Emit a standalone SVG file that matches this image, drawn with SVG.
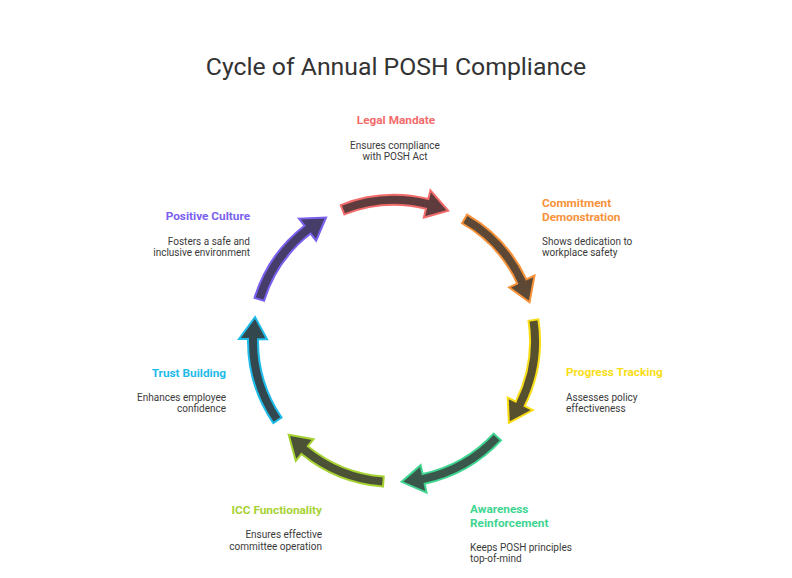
<svg xmlns="http://www.w3.org/2000/svg" width="792" height="578" viewBox="0 0 792 578">
<style>
.title{font-family:Roboto,"Liberation Sans",sans-serif;font-size:24.8px;fill:#333;}
.lbl{font-family:Roboto,"Liberation Sans",sans-serif;font-size:11.8px;font-weight:700;}
.desc{font-family:Roboto,"Liberation Sans",sans-serif;font-size:10px;fill:#3a3a3a;}
.arrow{stroke-width:2;stroke-linejoin:miter;}
</style>
<defs>
<path id="arc" d="M146,0 A146,146 0 0 1 119.60,83.74 L126.97,88.90 L101.43,97.95 L104.03,72.84 L111.40,78.01 A136,136 0 0 0 136,0 Z"/>
</defs>
<rect width="792" height="578" fill="#fff"/>
<text class="title" x="396" y="75" text-anchor="middle">Cycle of Annual POSH Compliance</text>
<g id="connectors">
<use href="#arc" class="arrow" fill="#5e3b3d" stroke="#f26b6b" transform="translate(394 341) rotate(-111.4)"/>
<use href="#arc" class="arrow" fill="#5d4835" stroke="#f7923a" transform="translate(394 341) rotate(-59.97)"/>
<use href="#arc" class="arrow" fill="#57502e" stroke="#f9de17" transform="translate(394 341) rotate(-8.54)"/>
<use href="#arc" class="arrow" fill="#39574a" stroke="#3ed591" transform="translate(394 341) rotate(42.89)"/>
<use href="#arc" class="arrow" fill="#4c5236" stroke="#a6d232" transform="translate(394 341) rotate(94.32)"/>
<use href="#arc" class="arrow" fill="#33474f" stroke="#1ebbe9" transform="translate(394 341) rotate(145.75)"/>
<use href="#arc" class="arrow" fill="#463d6b" stroke="#7b61f0" transform="translate(394 341) rotate(197.18)"/>
</g>
<g id="legal-mandate">
<text class="lbl" x="396" y="124" text-anchor="middle" fill="#f26b6b">Legal Mandate</text>
<text class="desc" x="395" y="148.5" text-anchor="middle">Ensures compliance</text>
<text class="desc" x="395" y="160" text-anchor="middle">with POSH Act</text>
</g>
<g id="commitment-demonstration">
<text class="lbl" x="542" y="206.5" fill="#f7923a">Commitment</text>
<text class="lbl" x="542" y="220.5" fill="#f7923a">Demonstration</text>
<text class="desc" x="542" y="244.5">Shows dedication to</text>
<text class="desc" x="542" y="256">workplace safety</text>
</g>
<g id="progress-tracking">
<text class="lbl" x="566" y="376" fill="#f9de17">Progress Tracking</text>
<text class="desc" x="566" y="400.5">Assesses policy</text>
<text class="desc" x="566" y="412">effectiveness</text>
</g>
<g id="awareness-reinforcement">
<text class="lbl" x="470" y="512.5" fill="#3ed591">Awareness</text>
<text class="lbl" x="470" y="526.5" fill="#3ed591">Reinforcement</text>
<text class="desc" x="470" y="550.5">Keeps POSH principles</text>
<text class="desc" x="470" y="562">top-of-mind</text>
</g>
<g id="icc-functionality">
<text class="lbl" x="322" y="514" text-anchor="end" fill="#a6d232">ICC Functionality</text>
<text class="desc" x="322" y="538" text-anchor="end">Ensures effective</text>
<text class="desc" x="322" y="549.5" text-anchor="end">committee operation</text>
</g>
<g id="trust-building">
<text class="lbl" x="226" y="376.5" text-anchor="end" fill="#1ebbe9">Trust Building</text>
<text class="desc" x="226" y="400.5" text-anchor="end">Enhances employee</text>
<text class="desc" x="226" y="412" text-anchor="end">confidence</text>
</g>
<g id="positive-culture">
<text class="lbl" x="250" y="220" text-anchor="end" fill="#7b61f0">Positive Culture</text>
<text class="desc" x="250" y="244.5" text-anchor="end">Fosters a safe and</text>
<text class="desc" x="250" y="256" text-anchor="end">inclusive environment</text>
</g>
</svg>
